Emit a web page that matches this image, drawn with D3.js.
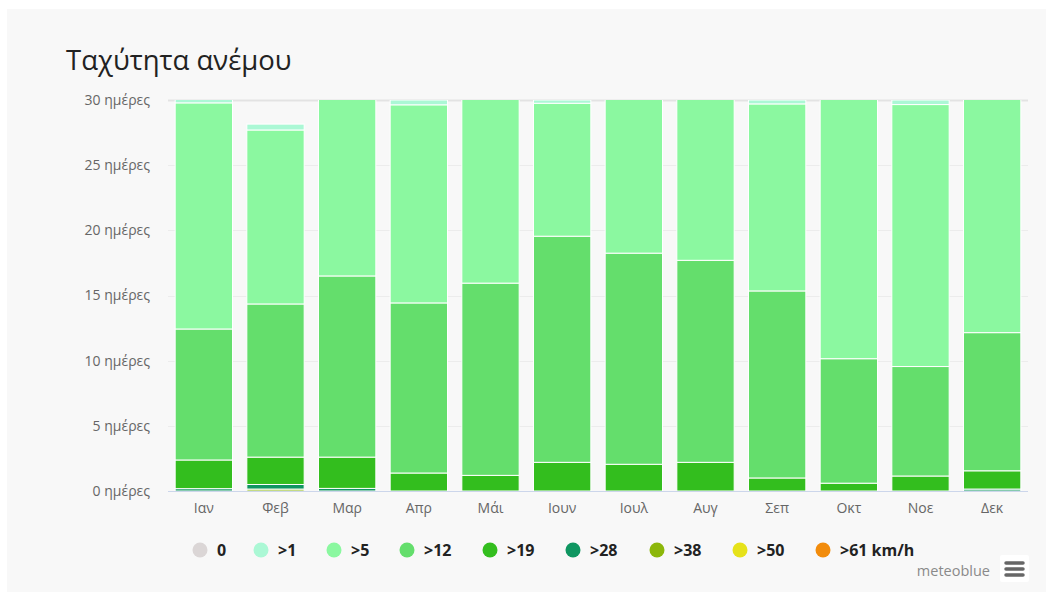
<!DOCTYPE html>
<html>
<head>
<meta charset="utf-8">
<script src="https://cdn.jsdelivr.net/npm/d3@7"></script>
<style>
    body { margin: 0; background: #ffffff; }
    svg { display: block; font-family: "Open Sans", "DejaVu Sans", sans-serif; }
    .tick-label { fill: #666666; font-size: 14px; }
    .legend-label { fill: #222222; font-size: 16px; font-weight: bold; }
</style>
</head>
<body>
<div id="wrapper"></div>
<script>
const months = ["Ιαν", "Φεβ", "Μαρ", "Απρ", "Μάι", "Ιουν", "Ιουλ", "Αυγ", "Σεπ", "Οκτ", "Νοε", "Δεκ"];
const yTicks = [0, 5, 10, 15, 20, 25, 30];
const speedLabels = ["0", ">1", ">5", ">12", ">19", ">28", ">38", ">50", ">61 km/h"];
const speedColors = ["#dbd6d6", "#abf8d5", "#8bf8a0", "#64de6c", "#33be1e", "#0f9661", "#8cb70a", "#e6e21a", "#f28c0c"];

// days per month in each wind class
const calm = [0, 0, 0, 0, 0, 0, 0, 0, 0, 0, 0, 0];
const over1 = [1.2, 0.45, 0.5, 0.37, 0, 0.25, 0, 0, 0.3, 0, 0.35, 0];
const over5 = [17.35, 13.35, 14.0, 15.2, 15.05, 10.2, 12.75, 13.3, 14.35, 20.85, 20.1, 18.85];
const over12 = [10.05, 11.75, 13.9, 13.05, 14.75, 17.35, 16.2, 15.5, 14.35, 9.55, 8.4, 10.6];
const over19 = [2.2, 2.1, 2.4, 1.38, 1.2, 2.2, 2.05, 2.2, 1.0, 0.6, 1.15, 1.4];
const over28 = [0.18, 0.35, 0.2, 0, 0, 0, 0, 0, 0, 0, 0, 0.15];
const over38 = [0, 0.15, 0, 0, 0, 0, 0, 0, 0, 0, 0, 0];
const over50 = [0, 0, 0, 0, 0, 0, 0, 0, 0, 0, 0, 0];
const over61 = [0, 0, 0, 0, 0, 0, 0, 0, 0, 0, 0, 0];

const seriesValues = [calm, over1, over5, over12, over19, over28, over38, over50, over61];

const rows = months.map((m, i) => {
    const row = { month: m };
    speedLabels.forEach((s, k) => row[s] = seriesValues[k][i]);
    return row;
});

const dimensions = {
    width: 1054,
    height: 592,
    margin: { top: 100, right: 26, bottom: 101, left: 168 },
};
dimensions.boundedWidth = dimensions.width - dimensions.margin.left - dimensions.margin.right;
dimensions.boundedHeight = dimensions.height - dimensions.margin.top - dimensions.margin.bottom;

const svg = d3.select("#wrapper")
    .append("svg")
    .attr("width", dimensions.width)
    .attr("height", dimensions.height);

svg.append("rect")
    .attr("x", 7)
    .attr("y", 9)
    .attr("width", 1039)
    .attr("height", 583)
    .attr("fill", "#f8f8f8");

svg.append("text")
    .attr("x", 66)
    .attr("y", 70)
    .attr("fill", "#222222")
    .style("font-size", "27.5px")
    .text("Ταχύτητα ανέμου");

const bounds = svg.append("g")
    .attr("transform", `translate(${dimensions.margin.left},${dimensions.margin.top})`);

const xScale = d3.scaleBand()
    .domain(months)
    .range([0, dimensions.boundedWidth])
    .paddingInner(0.2)
    .paddingOuter(0.1);

const yScale = d3.scaleLinear()
    .domain([0, 30])
    .range([dimensions.boundedHeight, 0]);

// grid
bounds.append("g")
    .selectAll("line")
    .data(yTicks)
    .join("line")
    .attr("x1", 0)
    .attr("x2", dimensions.boundedWidth)
    .attr("y1", d => Math.round(yScale(d)) + 0.5)
    .attr("y2", d => Math.round(yScale(d)) + 0.5)
    .attr("stroke", d => d == 30 ? "#e3e3e3" : "#ececec")
    .attr("stroke-width", d => d == 30 ? 2 : 1);

// y labels
bounds.append("g")
    .selectAll("text")
    .data(yTicks)
    .join("text")
    .attr("class", "tick-label")
    .attr("x", -18)
    .attr("y", d => yScale(d))
    .attr("dy", "0.35em")
    .attr("text-anchor", "end")
    .text(d => `${d} ημέρες`);

bounds.append("clipPath")
    .attr("id", "plot-clip")
    .append("rect")
    .attr("x", 0)
    .attr("y", 0)
    .attr("width", dimensions.boundedWidth)
    .attr("height", dimensions.boundedHeight);

// stacked bars, fastest class at the bottom
const stackKeys = speedLabels.slice().reverse();
const stacked = d3.stack().keys(stackKeys)(rows);

bounds.append("g")
    .attr("clip-path", "url(#plot-clip)")
    .selectAll("g")
    .data(stacked)
    .join("g")
    .attr("fill", d => speedColors[speedLabels.indexOf(d.key)])
    .selectAll("rect")
    .data(d => d.filter(s => s[1] - s[0] > 0))
    .join("rect")
    .attr("x", d => xScale(d.data.month))
    .attr("width", xScale.bandwidth())
    .attr("y", d => yScale(d[1]))
    .attr("height", d => yScale(d[0]) - yScale(d[1]))
    .attr("stroke", "#ffffff")
    .attr("stroke-width", 1);

// x axis line
bounds.append("line")
    .attr("x1", 0)
    .attr("x2", dimensions.boundedWidth)
    .attr("y1", dimensions.boundedHeight + 0.5)
    .attr("y2", dimensions.boundedHeight + 0.5)
    .attr("stroke", "#ccd6eb");

bounds.append("g")
    .selectAll("text")
    .data(months)
    .join("text")
    .attr("class", "tick-label")
    .attr("x", d => xScale(d) + xScale.bandwidth() / 2)
    .attr("y", dimensions.boundedHeight + 22)
    .attr("text-anchor", "middle")
    .text(d => d);

// legend
const legendX = [200, 261, 334, 407, 490, 573, 657, 740, 823];
const legend = svg.append("g")
    .selectAll("g")
    .data(speedLabels)
    .join("g")
    .attr("transform", (d, i) => `translate(${legendX[i]},550)`);

legend.append("circle")
    .attr("r", 7.5)
    .attr("fill", (d, i) => speedColors[i]);

legend.append("text")
    .attr("class", "legend-label")
    .attr("x", 17)
    .attr("dy", "0.35em")
    .text(d => d);

// credits + menu button
svg.append("text")
    .attr("x", 990)
    .attr("y", 576)
    .attr("text-anchor", "end")
    .attr("fill", "#8a8a8a")
    .style("font-size", "14.5px")
    .text("meteoblue");

const menu = svg.append("g").attr("transform", "translate(1000,555)");
menu.append("rect")
    .attr("width", 29)
    .attr("height", 27)
    .attr("rx", 2)
    .attr("fill", "#ffffff");
menu.selectAll("line")
    .data([8, 14, 20])
    .join("line")
    .attr("x1", 6)
    .attr("x2", 23)
    .attr("y1", d => d)
    .attr("y2", d => d)
    .attr("stroke", "#666666")
    .attr("stroke-width", 3.5)
    .attr("stroke-linecap", "round");
</script>
</body>
</html>
